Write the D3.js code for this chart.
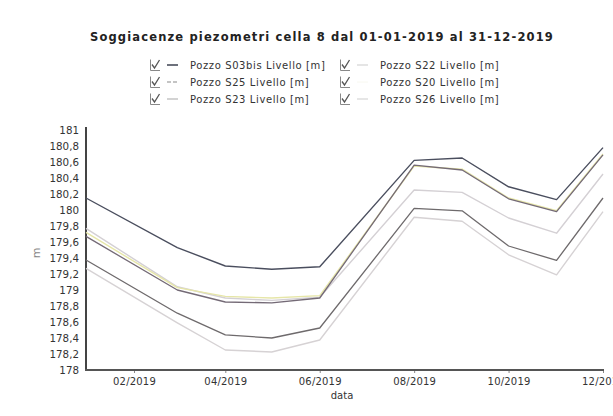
<!DOCTYPE html>
<html><head><meta charset="utf-8">
<script src="https://cdn.jsdelivr.net/npm/d3@7"></script>
<style>
body{margin:0;background:#fff;}
svg{display:block;}
text{font-family:"DejaVu Sans",Verdana,sans-serif;}
</style></head>
<body>
<svg id="c" width="613" height="416"></svg>
<script>
const title = "Soggiacenze piezometri cella 8 dal 01-01-2019 al 31-12-2019";
const dates = ["2019-01-01","2019-03-01","2019-04-01","2019-05-01","2019-06-01","2019-08-01","2019-09-01","2019-10-01","2019-11-01","2019-12-01"];
const seriesNames = ["Pozzo S03bis Livello [m]","Pozzo S22 Livello [m]","Pozzo S25 Livello [m]","Pozzo S20 Livello [m]","Pozzo S23 Livello [m]","Pozzo S26 Livello [m]"];
const s03bis = [180.15,179.53,179.30,179.26,179.29,180.62,180.65,180.29,180.13,180.78];
const s22    = [179.77,179.04,178.90,178.87,178.91,180.25,180.22,179.90,179.71,180.45];
const s25    = [179.67,179.00,178.85,178.84,178.90,180.56,180.50,180.14,179.98,180.69];
const s20    = [179.72,179.03,178.92,178.90,178.93,180.55,180.51,180.15,179.99,180.70];
const s23    = [179.375,178.71,178.44,178.40,178.525,180.02,179.99,179.55,179.37,180.15];
const s26    = [179.27,178.59,178.25,178.225,178.375,179.91,179.86,179.44,179.19,179.98];
const yTicks = [178,178.2,178.4,178.6,178.8,179,179.2,179.4,179.6,179.8,180,180.2,180.4,180.6,180.8,181];
const xTicks = ["2019-02-01","2019-04-01","2019-06-01","2019-08-01","2019-10-01","2019-12-01"];
const xDomain = ["2019-01-01","2019-12-01"];
const yDomain = [178,181];

const parse = d3.utcParse("%Y-%m-%d");
const svg = d3.select("#c");
const x = d3.scaleUtc().domain(xDomain.map(parse)).range([86,603]);
const y = d3.scaleLinear().domain(yDomain).range([370,130]);

// title
svg.append("text").attr("x",322).attr("y",41).attr("text-anchor","middle")
  .attr("font-size",11.5).attr("font-weight","bold").attr("letter-spacing",1.15).attr("fill","#222").text(title);

// legend
const legendStyle = [
  {color:"#3c4250", dash:null, w:1.5},
  {color:"#dcdcdc", dash:null, w:1.5},
  {color:"#8a8a8a", dash:"4,2", w:1.2},
  {color:"#f8f8f0", dash:null, w:1},
  {color:"#c4c4c4", dash:null, w:1.5},
  {color:"#dedede", dash:null, w:1.5}
];
const legCols = [150,340], legRows=[69,86,103];
seriesNames.forEach((n,i)=>{
  const cx = legCols[i%2], cy = legRows[Math.floor(i/2)];
  const g = svg.append("g").attr("transform",`translate(${cx},${cy})`);
  g.append("path").attr("d","M0.5,-9.5 V1.5 H10").attr("fill","none").attr("stroke","#888").attr("stroke-width",1);
  g.append("path").attr("d","M2,-4.5 L4.5,-1 L9.5,-9").attr("fill","none").attr("stroke","#555").attr("stroke-width",1.3);
  g.append("line").attr("x1",17).attr("x2",28).attr("y1",-4).attr("y2",-4)
    .attr("stroke",legendStyle[i].color).attr("stroke-width",legendStyle[i].w)
    .attr("stroke-dasharray",legendStyle[i].dash);
  g.append("text").attr("x",40).attr("y",0).attr("font-size",10).attr("letter-spacing",0.6).attr("fill","#333").text(n);
});

// axes
const fmtY = v => d3.format("~g")(+v.toFixed(1)).replace(".",",");
const yAxis = svg.append("g").attr("transform","translate(86,0)")
  .call(d3.axisLeft(y).tickValues(yTicks).tickFormat(fmtY).tickSize(0).tickPadding(7));
yAxis.select(".domain").remove();
yAxis.selectAll("text").attr("font-size",10.3).attr("fill","#333").attr("font-family","DejaVu Sans");

const xAxis = svg.append("g").attr("transform","translate(0,370)")
  .call(d3.axisBottom(x).tickValues(xTicks.map(parse)).tickFormat(d3.utcFormat("%m/%Y")).tickSize(3).tickPadding(5));
xAxis.select(".domain").remove();
xAxis.selectAll("line").attr("stroke","#888");
xAxis.selectAll("text").attr("font-size",10).attr("letter-spacing",0.2).attr("fill","#333").attr("font-family","DejaVu Sans");

svg.append("line").attr("x1",86).attr("x2",86).attr("y1",127).attr("y2",371).attr("stroke","#444").attr("stroke-width",2);
svg.append("line").attr("x1",85).attr("x2",604).attr("y1",370).attr("y2",370).attr("stroke","#555").attr("stroke-width",2);

svg.append("text").attr("x",342).attr("y",399).attr("text-anchor","middle").attr("font-size",10).attr("fill","#333").text("data");
svg.append("text").attr("transform","translate(40,253) rotate(-90)").attr("text-anchor","middle")
  .attr("font-size",11).attr("fill","#888").text("m");

// lines
const line = d3.line().x((d,i)=>x(parse(dates[i]))).y(d=>y(d));
const drawOrder = [
  {v:s26,c:"#d6d2d4",w:1.4},
  {v:s23,c:"#6e6a6c",w:1.3},
  {v:s22,c:"#d4d0d4",w:1.4},
  {v:s20,c:"#e6e6a8",w:1.4},
  {v:s25,c:"#746a76",w:1.3},
  {v:s03bis,c:"#4a4e5e",w:1.4}
];
drawOrder.forEach(s=>{
  svg.append("path").datum(s.v).attr("d",line).attr("fill","none")
    .attr("stroke",s.c).attr("stroke-width",s.w).attr("stroke-linejoin","round");
});
</script>
</body></html>
